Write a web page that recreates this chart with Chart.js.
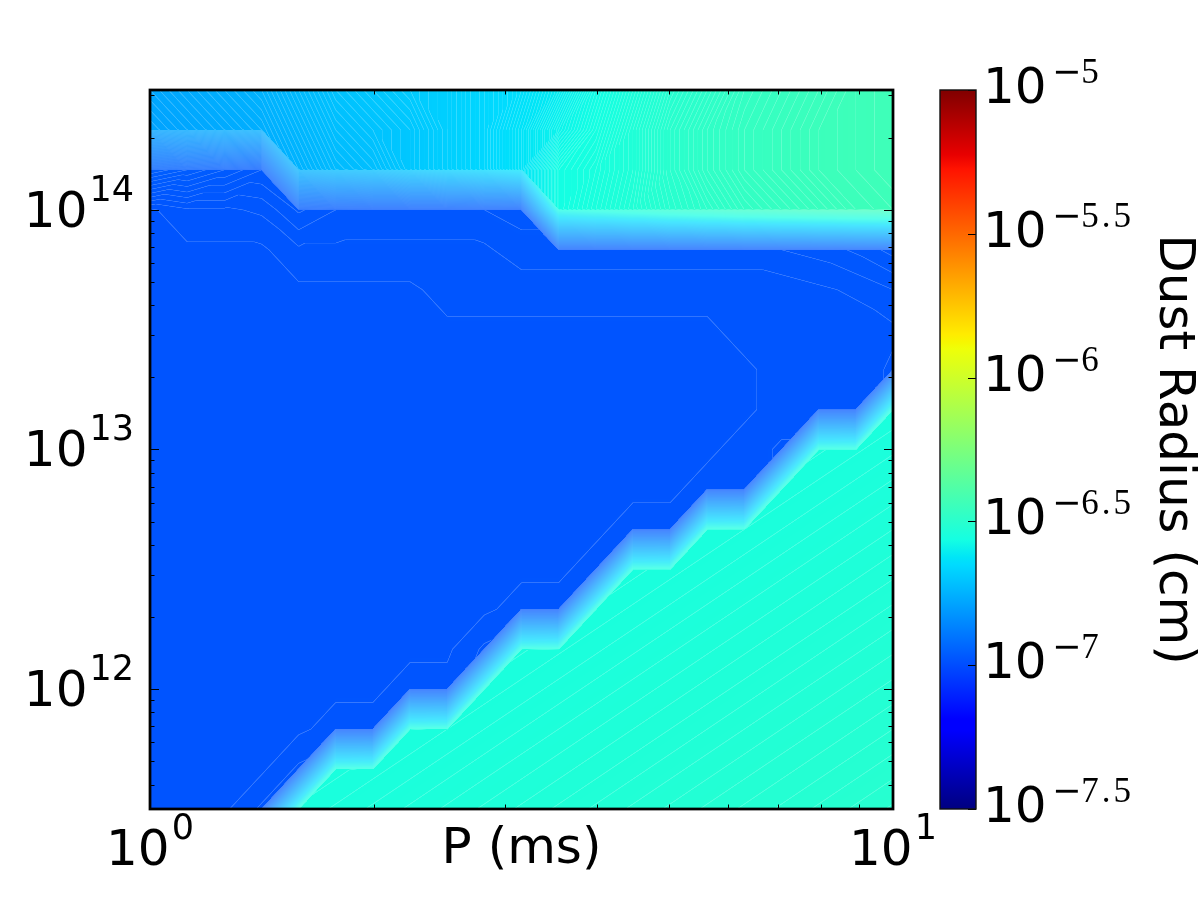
<!DOCTYPE html>
<html>
<head>
<meta charset="utf-8">
<title>Dust Radius map</title>
<script src="https://cdn.jsdelivr.net/npm/chart.js@4.4.1/dist/chart.umd.min.js"></script>
<style>
  html, body { margin: 0; padding: 0; background: #ffffff; }
  canvas { display: block; }
</style>
</head>
<body>
<canvas id="chart" width="1200" height="900"></canvas>
<script>
/**
 * Dust radius map
 * Filled contours of log10(dust radius) over P (ms) and a log vertical axis,
 * drawn through Chart.js logarithmic scales, with a jet colorbar.
 */

// P grid (ms), log spaced
const periodsMs = [1.000, 1.122, 1.259, 1.413, 1.585, 1.778, 1.995, 2.239, 2.512, 2.818, 3.162,
                   3.548, 3.981, 4.467, 5.012, 5.623, 6.310, 7.079, 7.943, 8.913, 10.00];

// vertical grid, top row first
const yGrid = [3.162e14, 2.154e14, 1.468e14, 1.000e14, 6.813e13, 4.642e13, 3.162e13, 2.154e13,
               1.468e13, 1.000e13, 6.813e12, 4.642e12, 3.162e12, 2.154e12, 1.468e12, 1.000e12,
               6.813e11, 4.642e11, 3.162e11];

// log10(dust radius / cm), one row per yGrid entry (top first), one column per period
const logDustRadius = [
  [-6.780, -6.770, -6.760, -6.750, -6.730, -6.710, -6.700, -6.690, -6.680, -6.660, -6.640, -6.610, -6.570, -6.540, -6.510, -6.490, -6.470, -6.460, -6.450, -6.440, -6.435],
  [-6.790, -6.780, -6.770, -6.760, -6.740, -6.720, -6.710, -6.700, -6.680, -6.660, -6.630, -6.590, -6.560, -6.530, -6.500, -6.480, -6.465, -6.455, -6.445, -6.440, -6.435],
  [-6.955, -6.960, -6.965, -6.970, -6.750, -6.730, -6.720, -6.700, -6.680, -6.660, -6.630, -6.565, -6.550, -6.530, -6.500, -6.480, -6.465, -6.455, -6.445, -6.440, -6.435],
  [-6.9805, -6.978, -6.978, -6.977, -6.972, -6.975, -6.976, -6.976, -6.976, -6.975, -6.974, -6.565, -6.545, -6.525, -6.505, -6.490, -6.475, -6.465, -6.455, -6.445, -6.440],
  [-6.9805, -6.9805, -6.9805, -6.9805, -6.978, -6.978, -6.978, -6.978, -6.978, -6.978, -6.976, -6.976, -6.976, -6.976, -6.976, -6.976, -6.976, -6.975, -6.974, -6.972, -6.969],
  [-6.9805, -6.9805, -6.9805, -6.9805, -6.9805, -6.9805, -6.9805, -6.9805, -6.979, -6.979, -6.979, -6.979, -6.979, -6.979, -6.979, -6.979, -6.979, -6.979, -6.978, -6.977, -6.975],
  [-6.9805, -6.9805, -6.9805, -6.9805, -6.9805, -6.9805, -6.9805, -6.9805, -6.9805, -6.9805, -6.9805, -6.9805, -6.9805, -6.9805, -6.9805, -6.9805, -6.979, -6.979, -6.979, -6.979, -6.978],
  [-6.9805, -6.9805, -6.9805, -6.9805, -6.9805, -6.9805, -6.9805, -6.9805, -6.9805, -6.9805, -6.9805, -6.9805, -6.9805, -6.9805, -6.9805, -6.9805, -6.9805, -6.979, -6.979, -6.979, -6.977],
  [-6.9805, -6.9805, -6.9805, -6.9805, -6.9805, -6.9805, -6.9805, -6.9805, -6.9805, -6.9805, -6.9805, -6.9805, -6.9805, -6.9805, -6.9805, -6.9805, -6.9805, -6.979, -6.979, -6.979, -6.547],
  [-6.9805, -6.9805, -6.9805, -6.9805, -6.9805, -6.9805, -6.9805, -6.9805, -6.9805, -6.9805, -6.9805, -6.9805, -6.9805, -6.9805, -6.9805, -6.9805, -6.979, -6.977, -6.548, -6.5455, -6.543],
  [-6.9805, -6.9805, -6.9805, -6.9805, -6.9805, -6.9805, -6.9805, -6.9805, -6.9805, -6.9805, -6.9805, -6.9805, -6.9805, -6.9805, -6.9805, -6.979, -6.979, -6.5465, -6.544, -6.5415, -6.539],
  [-6.9805, -6.9805, -6.9805, -6.9805, -6.9805, -6.9805, -6.9805, -6.9805, -6.9805, -6.9805, -6.9805, -6.9805, -6.9805, -6.979, -6.979, -6.5475, -6.545, -6.5425, -6.540, -6.5375, -6.535],
  [-6.9805, -6.9805, -6.9805, -6.9805, -6.9805, -6.9805, -6.9805, -6.9805, -6.9805, -6.9805, -6.9805, -6.9805, -6.979, -6.5485, -6.546, -6.5435, -6.541, -6.5385, -6.536, -6.5335, -6.531],
  [-6.9805, -6.9805, -6.9805, -6.9805, -6.9805, -6.9805, -6.9805, -6.9805, -6.9805, -6.9805, -6.979, -6.979, -6.547, -6.5445, -6.542, -6.5395, -6.537, -6.5345, -6.532, -6.5295, -6.527],
  [-6.9805, -6.9805, -6.9805, -6.9805, -6.9805, -6.9805, -6.9805, -6.9805, -6.9805, -6.977, -6.548, -6.5455, -6.543, -6.5405, -6.538, -6.5355, -6.533, -6.5305, -6.528, -6.5255, -6.523],
  [-6.9805, -6.9805, -6.9805, -6.9805, -6.9805, -6.9805, -6.9805, -6.979, -6.979, -6.5465, -6.544, -6.5415, -6.539, -6.5365, -6.534, -6.5315, -6.529, -6.5265, -6.524, -6.5215, -6.519],
  [-6.9805, -6.9805, -6.9805, -6.9805, -6.9805, -6.979, -6.979, -6.5475, -6.545, -6.5425, -6.540, -6.5375, -6.535, -6.5325, -6.530, -6.5275, -6.525, -6.5225, -6.520, -6.5175, -6.515],
  [-6.9805, -6.9805, -6.9805, -6.9805, -6.977, -6.5485, -6.546, -6.5435, -6.541, -6.5385, -6.536, -6.5335, -6.531, -6.5285, -6.526, -6.5235, -6.521, -6.5185, -6.516, -6.5135, -6.511],
  [-6.9805, -6.9805, -6.9805, -6.977, -6.547, -6.5445, -6.542, -6.5395, -6.537, -6.5345, -6.532, -6.5295, -6.527, -6.5245, -6.522, -6.5195, -6.517, -6.5145, -6.512, -6.5095, -6.507]
];

const xTickExponents = [0, 1];
const yTickExponents = [12, 13, 14];
const minorSteps = [2, 3, 4, 5, 6, 7, 8, 9];
const cbarTicks = [-7.5, -7, -6.5, -6, -5.5, -5];
const cbarTickLabels = ['−7.5', '−7', '−6.5', '−6', '−5.5', '−5'];
const levelStep = 0.0025;     // spacing of the filled contour levels

const SANS = '"DejaVu Sans", "Liberation Sans", sans-serif';
const SERIF = '"Liberation Serif", "DejaVu Serif", serif';
const CBAR_X = 940;
const CBAR_W = 36;
const SEAM_STRENGTH = 0.85;

/**
 * jet colormap
 */
const jetSegments = {
  r: [[0, 0], [0.35, 0], [0.66, 1], [0.89, 1], [1, 0.5]],
  g: [[0, 0], [0.125, 0], [0.375, 1], [0.64, 1], [0.91, 0], [1, 0]],
  b: [[0, 0.5], [0.11, 1], [0.34, 1], [0.65, 0], [1, 0]]
};
const jetBreaks = [0, 0.11, 0.125, 0.34, 0.35, 0.375, 0.64, 0.65, 0.66, 0.89, 0.91, 1];

function segValue(seg, t) {
  for (let i = 1; i < seg.length; i++) {
    if (t <= seg[i][0]) {
      const [x0, y0] = seg[i - 1];
      const [x1, y1] = seg[i];
      return y0 + (y1 - y0) * (t - x0) / (x1 - x0);
    }
  }
  return seg[seg.length - 1][1];
}

function jet(t) {
  t = Math.min(1, Math.max(0, t));
  return [segValue(jetSegments.r, t) * 255, segValue(jetSegments.g, t) * 255, segValue(jetSegments.b, t) * 255];
}

const JET_LUT_SIZE = 4096;
const jetLut = Array.from({ length: JET_LUT_SIZE }, (_, n) => jet(n / (JET_LUT_SIZE - 1)));

/**
 * Grid lookup + piecewise linear field (two triangles per cell, like marching squares)
 */
const xGridLog = periodsMs.map(Math.log10);
const yGridLog = yGrid.slice().reverse().map(Math.log10);
const rowsAsc = logDustRadius.slice().reverse();

function gridPosition(gridLog, v) {
  let i = 0;
  while (i < gridLog.length - 2 && v > gridLog[i + 1]) i++;
  const f = (v - gridLog[i]) / (gridLog[i + 1] - gridLog[i]);
  return [i, Math.min(1, Math.max(0, f))];
}

function fieldValue(k, fy, i, fx) {
  const a = rowsAsc[k][i], b = rowsAsc[k][i + 1];
  const c = rowsAsc[k + 1][i], d = rowsAsc[k + 1][i + 1];
  if (Math.abs(a - d) <= Math.abs(b - c)) {
    return fx >= fy ? a + (b - a) * fx + (d - b) * fy : a + (c - a) * fy + (d - c) * fx;
  }
  return fx + fy <= 1 ? a + (b - a) * fx + (c - a) * fy : d + (c - d) * (1 - fx) + (b - d) * (1 - fy);
}

// share of white background left visible where several level polygons meet in one pixel
function seamWhite(lo, hi, base) {
  const n0 = Math.floor((lo - base) / levelStep);
  const n1 = Math.floor((hi - base) / levelStep);
  if (n0 === n1) return 0;
  const span = hi - lo;
  let keep = 1;
  for (let n = n0; n <= n1; n++) {
    const part = (Math.min(hi, base + (n + 1) * levelStep) - Math.max(lo, base + n * levelStep)) / span;
    keep *= 1 - part;
  }
  return keep * SEAM_STRENGTH;
}

const contourPlugin = {
  id: 'contourField',
  beforeDatasetsDraw(chart) {
    const { ctx, chartArea: area, scales } = chart;
    const left = Math.round(area.left), top = Math.round(area.top);
    const w = Math.round(area.right) - left, h = Math.round(area.bottom) - top;
    const vMin = cbarTicks[0], vMax = cbarTicks[cbarTicks.length - 1];

    const cols = [], rows = [];
    for (let px = 0; px <= w; px++) cols.push(gridPosition(xGridLog, Math.log10(scales.x.getValueForPixel(left + px))));
    for (let py = 0; py <= h; py++) rows.push(gridPosition(yGridLog, Math.log10(scales.y.getValueForPixel(top + py))));

    const stride = w + 1;
    const corner = new Float64Array(stride * (h + 1));
    for (let py = 0; py <= h; py++) {
      const [k, fy] = rows[py];
      for (let px = 0; px <= w; px++) {
        const [i, fx] = cols[px];
        corner[py * stride + px] = fieldValue(k, fy, i, fx);
      }
    }

    const off = document.createElement('canvas');
    off.width = w;
    off.height = h;
    const octx = off.getContext('2d');
    const img = octx.createImageData(w, h);
    const data = img.data;
    for (let py = 0; py < h; py++) {
      for (let px = 0; px < w; px++) {
        const a = corner[py * stride + px], b = corner[py * stride + px + 1];
        const c = corner[(py + 1) * stride + px], d = corner[(py + 1) * stride + px + 1];
        const white = seamWhite(Math.min(a, b, c, d), Math.max(a, b, c, d), vMin);
        const t = ((a + b + c + d) / 4 - vMin) / (vMax - vMin);
        const col = jetLut[Math.round(Math.min(1, Math.max(0, t)) * (JET_LUT_SIZE - 1))];
        const o = (py * w + px) * 4;
        data[o] = col[0] * (1 - white) + 255 * white;
        data[o + 1] = col[1] * (1 - white) + 255 * white;
        data[o + 2] = col[2] * (1 - white) + 255 * white;
        data[o + 3] = 255;
      }
    }
    octx.putImageData(img, 0, 0);
    ctx.drawImage(off, left, top);
  }
};

/**
 * Colorbar, frame, inward ticks and mathtext-like labels
 */
function line(ctx, x0, y0, x1, y1) {
  ctx.beginPath();
  ctx.moveTo(x0, y0);
  ctx.lineTo(x1, y1);
  ctx.stroke();
}

// exponent like "−5.5": long sans minus, serif digits, loose spacing
function drawSpacedSup(ctx, text, x, y) {
  ctx.textAlign = 'left';
  let cx = x;
  for (let n = 0; n < text.length; n++) {
    const ch = text[n];
    ctx.font = ch === '−' ? `35px ${SANS}` : `35px ${SERIF}`;
    ctx.fillText(ch, cx, y);
    let extra = 0;
    if (ch === '.') extra = 3;
    else if (text[n + 1] === '.') extra = 3;
    cx += ctx.measureText(ch).width + extra;
  }
}

const axesPlugin = {
  id: 'frameTicksLabels',
  afterDraw(chart) {
    const { ctx, chartArea: area, scales: { x, y, cb } } = chart;
    ctx.save();
    ctx.fillStyle = '#000';
    ctx.strokeStyle = '#000';
    ctx.textBaseline = 'alphabetic';

    // colorbar
    const cbBottom = cb.getPixelForValue(cbarTicks[0]);
    const cbTop = cb.getPixelForValue(cbarTicks[cbarTicks.length - 1]);
    const grad = ctx.createLinearGradient(0, cbBottom, 0, cbTop);
    jetBreaks.forEach(t => {
      const [r, g, b] = jet(t);
      grad.addColorStop(t, `rgb(${Math.round(r)},${Math.round(g)},${Math.round(b)})`);
    });
    ctx.fillStyle = grad;
    ctx.fillRect(CBAR_X, cbTop, CBAR_W, cbBottom - cbTop);
    ctx.fillStyle = '#000';
    ctx.lineWidth = 1;
    cbarTicks.forEach(v => {
      const py = Math.round(cb.getPixelForValue(v)) + 0.5;
      line(ctx, CBAR_X + CBAR_W, py, CBAR_X + CBAR_W - 8, py);
    });
    ctx.lineWidth = 1.4;
    ctx.strokeStyle = '#111';
    ctx.strokeRect(CBAR_X, cbTop, CBAR_W, cbBottom - cbTop);
    ctx.strokeStyle = '#000';

    // ticks on all four sides, pointing inward
    ctx.lineWidth = 1;
    const xTick = (value, len) => {
      const px = Math.round(x.getPixelForValue(value)) + 0.5;
      line(ctx, px, area.bottom, px, area.bottom - len);
      line(ctx, px, area.top, px, area.top + len);
    };
    const yTick = (value, len) => {
      const py = Math.round(y.getPixelForValue(value)) + 0.5;
      line(ctx, area.left, py, area.left + len, py);
      line(ctx, area.right, py, area.right - len, py);
    };
    xTickExponents.forEach(e => xTick(Math.pow(10, e), 9));
    minorSteps.forEach(m => xTick(m * Math.pow(10, xTickExponents[0]), 4.5));
    yTickExponents.forEach(e => yTick(Math.pow(10, e), 9));
    for (let e = yTickExponents[0] - 1; e <= yTickExponents[yTickExponents.length - 1]; e++) {
      minorSteps.forEach(m => {
        const v = m * Math.pow(10, e);
        if (v > y.min && v < y.max) yTick(v, 4.5);
      });
    }

    // frame
    ctx.lineWidth = 2.75;
    ctx.strokeRect(area.left, area.top, area.right - area.left, area.bottom - area.top);

    // y tick labels
    yTickExponents.forEach(e => {
      const py = y.getPixelForValue(Math.pow(10, e));
      ctx.textAlign = 'right';
      ctx.font = `35px ${SANS}`;
      const supW = ctx.measureText(String(e)).width;
      ctx.fillText(String(e), 134, py - 9);
      ctx.font = `50px ${SANS}`;
      ctx.fillText('10', 134 - supW - 2, py + 17);
    });

    // x tick labels
    xTickExponents.forEach(e => {
      const px = x.getPixelForValue(Math.pow(10, e));
      ctx.textAlign = 'left';
      ctx.font = `50px ${SANS}`;
      const baseW = ctx.measureText('10').width;
      ctx.font = `35px ${SANS}`;
      const supW = ctx.measureText(String(e)).width;
      const start = px - (baseW + 2 + supW) / 2;
      ctx.fillText(String(e), start + baseW + 2, 839);
      ctx.font = `50px ${SANS}`;
      ctx.fillText('10', start, 865);
    });

    // colorbar tick labels
    cbarTicks.forEach((v, j) => {
      const py = cb.getPixelForValue(v);
      ctx.font = `50px ${SANS}`;
      ctx.textAlign = 'left';
      ctx.fillText('10', 983, py + 13);
      drawSpacedSup(ctx, cbarTickLabels[j], 1052, py - 7);
    });

    // axis titles
    ctx.font = `50px ${SANS}`;
    ctx.textAlign = 'center';
    ctx.fillText('P (ms)', (area.left + area.right) / 2, 863);

    ctx.translate(1160, (area.top + area.bottom) / 2);
    ctx.rotate(Math.PI / 2);
    ctx.fillText('Dust Radius (cm)', 0, 0);
    ctx.restore();
  }
};

new Chart(document.getElementById('chart'), {
  type: 'scatter',
  data: { datasets: [] },
  options: {
    responsive: false,
    animation: false,
    devicePixelRatio: 1,
    events: [],
    layout: { padding: { left: 150, right: 307, top: 90, bottom: 91 } },
    plugins: {
      legend: { display: false },
      tooltip: { enabled: false }
    },
    scales: {
      x: { type: 'logarithmic', min: periodsMs[0], max: periodsMs[periodsMs.length - 1], bounds: 'data', display: false },
      y: { type: 'logarithmic', min: yGrid[yGrid.length - 1], max: yGrid[0], bounds: 'data', display: false },
      cb: { type: 'linear', axis: 'y', min: cbarTicks[0], max: cbarTicks[cbarTicks.length - 1], display: false }
    }
  },
  plugins: [contourPlugin, axesPlugin]
});
</script>
</body>
</html>
